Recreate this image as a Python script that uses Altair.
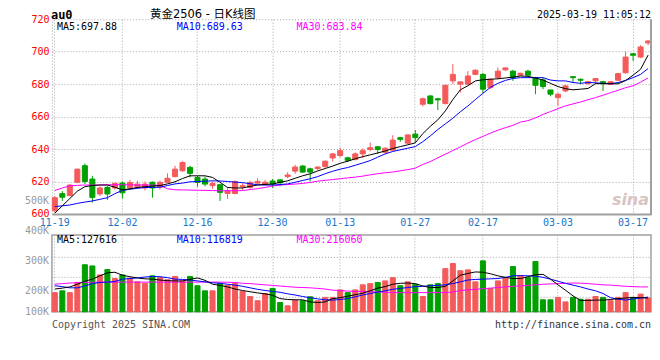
import altair as alt
import pandas as pd

dates = ["11-19","11-20","11-21","11-22","11-25","11-26","11-27","11-28","11-29",
         "12-02","12-03","12-04","12-05","12-06","12-09","12-10","12-11","12-12","12-13",
         "12-16","12-17","12-18","12-19","12-20","12-23","12-24","12-25","12-26","12-27","12-30","12-31",
         "01-02","01-03","01-06","01-07","01-08","01-09","01-10","01-13","01-14","01-15","01-16","01-17",
         "01-20","01-21","01-22","01-23","01-24","01-27",
         "02-05","02-06","02-07","02-10","02-11","02-12","02-13","02-14","02-17","02-18","02-19","02-20","02-21",
         "02-24","02-25","02-26","02-27","02-28",
         "03-03","03-04","03-05","03-06","03-07","03-10","03-11","03-12","03-13","03-14","03-17","03-18","03-19"]

opens = [602, 612.5, 611.3, 619.5, 629.7, 621.5, 612.3, 616.3, 616, 619,
         616, 616.7, 616, 619.5, 616.5, 619.5, 623, 626.6, 628.7, 622.5,
         621.5, 617.4, 618, 612.6, 612.6, 616.7, 616.3, 619, 618.3, 620.3,
         621, 623, 626.4, 629.5, 627.8, 628, 629.2, 634.5, 636, 634.6,
         633.5, 637, 639.7, 641.4, 638, 639.3, 647, 643.6, 649.2, 667.6,
         672.7, 671, 668, 682, 680, 680, 686, 686, 678, 684,
         688.8, 688, 685.5, 688, 684, 682.6, 676.4, 671.7, 675.8, 684.6,
         683, 680.3, 682, 681.5, 679.9, 682.4, 687, 698.7, 696.7, 705.4]
closes = [610, 610.3, 617.8, 627.6, 620, 610.2, 616, 612.3, 618.8, 613,
          619.4, 618.4, 618.4, 616, 619.5, 622, 627.6, 631.7, 625, 619.4,
          618.4, 618.8, 613.3, 614.3, 620, 617.4, 619.4, 620, 619.5, 618.5,
          619.2, 624, 628.9, 625.8, 625.8, 628.9, 632.5, 637, 639, 633,
          637, 639, 640.8, 639.7, 640.5, 645.5, 646, 648.7, 647, 671,
          668, 670.3, 679.3, 686, 681.4, 685, 688.6, 676.9, 683, 688,
          690, 684, 686.7, 685.5, 679.3, 678.5, 673.8, 673.8, 678.9, 684,
          682.4, 681.5, 683.4, 680.3, 681.5, 686.5, 696.7, 697.8, 702.9, 706.6]
highs = [611, 614, 618.5, 628, 631, 623.5, 617, 617.4, 619.3, 620,
         621, 620.5, 620, 620, 620.5, 625, 629.7, 632.5, 629.7, 623.5,
         623, 620, 618.5, 616.3, 620.6, 619, 620.5, 622, 621, 621.5,
         621.5, 625.7, 630.2, 630.2, 628.5, 629.5, 633, 637.5, 640.8, 635.2,
         638, 640.4, 644, 641.8, 641, 648.5, 647.5, 649, 651.7, 671.7,
         673.2, 671.5, 679.5, 692.3, 681.6, 688, 689, 687, 683.5, 690.2,
         690.3, 688.8, 687, 688.8, 684.5, 684, 676.5, 674.5, 679.5, 684.8,
         683.4, 682, 683.8, 682, 682, 687, 700, 699, 704, 707]
lows = [601, 608, 611, 619, 618.5, 607, 611, 608.6, 615, 609.5,
        615, 615.5, 614.5, 610, 615, 619, 622.5, 626, 622.5, 616.7,
        617, 615.5, 608, 609.3, 612, 614.8, 615.5, 618.5, 617.5, 616,
        617, 622, 624.7, 625.3, 620, 627, 628.5, 632.3, 635, 631.9,
        633, 634.4, 638.6, 637, 637, 639, 644.5, 643, 644, 666.2,
        667.5, 664, 667.5, 680, 674.8, 679.5, 685.5, 674.4, 677, 683,
        688, 682, 685, 684.6, 673.8, 676.9, 672.5, 666.6, 675, 681,
        680, 679.5, 680.3, 675.8, 679.5, 682, 686.5, 694.3, 696, 704]

ma5 = [600.5, 605, 609.5, 614, 616.8, 617.5, 617.8, 617.8, 616.5, 614.8,
       615.5, 616.3, 616.8, 617.2, 617.5, 618.5, 619.8, 621.8, 623.5, 623.5,
       623.5, 622.5, 619.5, 616.3, 616, 616, 617, 617.8, 618.2, 618.4,
       619.5, 620.4, 622, 623.5, 624.7, 626.5, 628, 629.5, 631.2, 632.5,
       634, 635.3, 636.4, 637.6, 638.8, 640.3, 641.5, 642.6, 643.8, 649.5,
       654, 658, 663.5, 670.5, 676.5, 679, 682, 682.7, 683, 683.3,
       683.8, 684.3, 685, 684.8, 683.8, 682.5, 680.5, 678.5, 677.2, 676.5,
       676.9, 677.3, 680.3, 680.3, 680.2, 680.2, 682.2, 685.5, 689.2, 697.88]
ma10 = [604.5, 605, 605.5, 606.5, 607.3, 608, 609, 610, 612.5, 614.5,
        615.2, 615.8, 616.3, 616.3, 616.5, 617.5, 618.5, 619, 619.8, 620,
        620.2, 620.4, 620.3, 620, 619.6, 619.3, 618.6, 618, 617.8, 617.8,
        618.1, 618.5, 619.5, 620.6, 621.7, 623, 624.8, 626.3, 627.6, 628.6,
        630, 631.4, 632.9, 635, 637, 638.5, 639.5, 640.5, 641.5, 644.5,
        648.1, 652, 655.5, 659, 663, 666.5, 670.5, 674.3, 678, 680.5,
        682.3, 683.5, 684, 684, 684, 684, 682.5, 682, 682, 681,
        680.5, 681, 680.8, 680.5, 680.3, 681, 682.3, 684, 686, 689.63]
ma30 = [614.5, 616, 617.3, 617.6, 617.8, 617.8, 617.9, 618, 618, 618,
        617.9, 617.8, 617.8, 617.8, 617.6, 615.5, 614.9, 614.8, 614.7, 614.6,
        614.5, 614.4, 614.3, 614.3, 614.3, 614.4, 615, 615.6, 616.3, 617.2,
        617.8, 618.1, 618.4, 618.8, 619.4, 620.2, 620.7, 621.2, 621.7, 622.2,
        622.7, 623.3, 624.1, 624.8, 625.4, 625.8, 626.6, 627.3, 628.2, 630.5,
        632.3, 634.6, 636.8, 639.1, 641.3, 643.7, 645.8, 647.8, 649.8, 651.6,
        653.2, 654.6, 656.6, 657.5, 659.2, 661.3, 663.1, 664.9, 666.6, 667.8,
        669, 670.4, 671.7, 673.2, 674.7, 676.2, 677.8, 679, 681.2, 683.84]

# volume in thousands of lots
vols = [194, 200, 194, 228, 287, 283, 253, 271, 241, 253,
        242, 230, 225, 250, 244, 237, 248, 233, 248, 217,
        200, 200, 225, 219, 225, 198, 181, 167, 191, 208,
        161, 150, 169, 167, 180, 167, 178, 178, 203, 194,
        203, 220, 224, 228, 233, 244, 217, 230, 222, 181,
        220, 224, 274, 291, 267, 270, 230, 300, 208, 233,
        244, 281, 250, 244, 298, 170, 170, 178, 163, 178,
        172, 172, 181, 178, 167, 178, 194, 178, 189, 176]
vma5 = [206, 209, 213, 222, 232, 239, 250, 260, 262, 252,
        247, 243, 240, 239, 236, 234, 233, 233, 238, 243,
        235, 222, 218, 213, 206, 201, 197, 193, 190, 185,
        174, 171, 170, 170, 163, 161, 163, 174, 177, 182,
        187, 192, 200, 209, 214, 222, 225, 226, 224, 216,
        211, 211, 215, 233, 252, 258, 263, 262, 257, 250,
        245, 241, 241, 247, 254, 255, 239, 220, 202, 183,
        168, 168, 169, 169, 171, 174, 176, 178, 177, 176]
vma10 = [217, 214, 210, 210, 216, 224, 228, 229, 231, 239,
         241, 243, 246, 248, 247, 244, 239, 238, 236, 233,
         230, 227, 225, 222, 219, 215, 210, 205, 201, 198,
         195, 190, 186, 181, 177, 173, 170, 169, 171, 174,
         180, 186, 191, 196, 200, 205, 208, 211, 214, 215,
         217, 218, 220, 224, 230, 236, 238, 239, 240, 241,
         245, 250, 251, 250, 249, 245, 239, 232, 225, 219,
         213, 206, 200, 191, 177, 172, 169, 173, 176, 179]
vma30 = [222, 224, 226, 227, 228, 228.5, 229, 229, 229, 229,
         229, 229, 229, 229, 229, 229, 229, 229, 229, 229,
         229, 229, 229, 228.5, 228, 225, 224, 222, 220, 218,
         216, 214, 212, 211, 210, 208, 206, 202, 201, 199,
         198, 198, 197, 196, 195, 194, 194, 194, 194, 194,
         194, 194, 194, 196, 201, 203, 205, 207, 209, 211,
         213, 215, 216.5, 218, 220, 222, 223, 224, 225, 226,
         225.5, 224, 222, 220, 219, 217, 215, 214, 213, 213]

price_ticks = [600, 620, 640, 660, 680, 700, 720]
date_ticks = ["11-19", "12-02", "12-16", "12-30", "01-13", "01-27", "02-17", "03-03", "03-17"]
vol_label_text = ["500K", "400K", "300K", "200K", "100K"]
vol_label_pos = [500, 400, 300, 200, 130]
vol_grid = [181, 248, 313]
vol_min, vol_max = 130, 386.7

RED = "#f55a5a"
GREEN = "#00a000"
GRID = "#a8a8a8"
FRAME = "#a0a0a0"
MONO = "DejaVu Sans Mono"
TITLE_FONT = "'DejaVu Sans', 'Noto Sans CJK SC'"
W, H1, H2 = 600, 195, 77

df = pd.DataFrame(dict(d=dates, o=opens, h=highs, l=lows, c=closes,
                       ma5=ma5, ma10=ma10, ma30=ma30,
                       v=vols, vma5=vma5, vma10=vma10, vma30=vma30))
df["dir"] = ["up" if c >= o else "down" for o, c in zip(opens, closes)]

xscale = alt.Scale(domain=dates, paddingInner=0.33, paddingOuter=0.05)
color = alt.Color("dir:N", scale=alt.Scale(domain=["up", "down"], range=[RED, GREEN]), legend=None)
stroke = alt.Stroke("dir:N", scale=alt.Scale(domain=["up", "down"], range=[RED, GREEN]), legend=None)

x_top = alt.X("d:O", scale=xscale, axis=alt.Axis(
    values=date_ticks, title=None, labelAngle=0, grid=True, gridDash=[1, 2], gridColor=GRID,
    ticks=False, domain=True, domainColor=FRAME, domainWidth=2, labelColor="#1a75c8",
    labelFont=MONO, labelFontSize=10, labelPadding=4, bandPosition=0.5, labelOverlap=False))
x_vol = alt.X("d:O", scale=xscale, axis=alt.Axis(
    values=date_ticks, title=None, labels=False, grid=True, gridDash=[1, 2], gridColor=GRID,
    ticks=False, domain=False, bandPosition=0.5))

pscale = alt.Scale(domain=[600, 720], nice=False, zero=False)
paxis = alt.Axis(values=price_ticks, title=None, grid=True, gridDash=[1, 2], gridColor=GRID,
                 ticks=False, domain=True, domainDash=[1, 2], domainColor=GRID,
                 labelColor="#ff0000", labelFont=MONO, labelFontSize=10, labelPadding=3)
vscale = alt.Scale(domain=[vol_min, vol_max], nice=False, zero=False)
vaxis = alt.Axis(values=vol_grid, title=None, labels=False, ticks=False, domain=False,
                 grid=True, gridDash=[1, 2], gridColor=GRID)


def label(text, x, y, color="black", size=10, font=MONO, align="left", baseline="middle",
          weight="normal", style="normal", opacity=1):
    return alt.Chart(pd.DataFrame({"t": [text]})).mark_text(
        align=align, baseline=baseline, color=color, fontSize=size, font=font,
        fontWeight=weight, fontStyle=style, opacity=opacity
    ).encode(text="t:N", x=alt.value(x), y=alt.value(y))


base = alt.Chart(df)

wick = base.mark_rule(strokeWidth=1).encode(
    x=x_top, y=alt.Y("l:Q", scale=pscale, axis=paxis), y2="h:Q", color=color)
body = base.mark_bar(strokeWidth=1).encode(
    x=x_top, y=alt.Y("o:Q", scale=pscale, axis=paxis), y2="c:Q", color=color, stroke=stroke)


def pline(field, col):
    return base.mark_line(strokeWidth=1, color=col).encode(
        x=x_top, y=alt.Y(f"{field}:Q", scale=pscale, axis=paxis))


right_border = alt.Chart(pd.DataFrame({"t": [0]})).mark_rule(color=FRAME, strokeWidth=2).encode(
    x=alt.value(W), y=alt.value(0), y2=alt.value(H1 + 1))
top_spacer = alt.Chart(pd.DataFrame({"t": [0]})).mark_rule(color="white").encode(
    x=alt.value(W - 1), y=alt.value(-10), y2=alt.value(-9))

top = alt.layer(
    wick, body, pline("ma30", "#ff00ff"), pline("ma10", "#0000ff"), pline("ma5", "#000000"),
    right_border, top_spacer,
    label("sina", W - 2, H1 - 14, color="#d9c4c4", size=16, font="DejaVu Sans", align="right",
          weight="bold", style="italic"),
    label(f"MA5:{ma5[-1]:.2f}", 5, 8),
    label(f"MA10:{ma10[-1]:.2f}", 125, 8, color="#0000ff"),
    label(f"MA30:{ma30[-1]:.2f}", 245, 8, color="#ff00ff"),
    label("au0", -1, -4.5, size=12, weight="bold"),
    label("黄金2506 - 日K线图", 151, -4.5, size=11.5, font=TITLE_FONT, align="center"),
    label("2025-03-19 11:05:12", W, -4.5, align="right"),
).properties(width=W, height=H1, view=alt.ViewConfig(stroke=None))

vbars = base.mark_bar(strokeWidth=1).encode(
    x=x_vol, y=alt.Y("v:Q", scale=vscale, axis=vaxis), y2=alt.Y2Datum(vol_min),
    color=color, stroke=stroke)


def vline(field, col):
    return base.mark_line(strokeWidth=1, color=col).encode(
        x=x_vol, y=alt.Y(f"{field}:Q", scale=vscale, axis=vaxis))


vlabels = alt.Chart(pd.DataFrame({"t": vol_label_text, "p": vol_label_pos})).mark_text(
    align="right", baseline="middle", color="#9a9a9a", font=MONO, fontSize=10
).encode(text="t:N", y=alt.Y("p:Q", scale=vscale, axis=vaxis), x=alt.value(-3))

spacer = alt.Chart(pd.DataFrame({"t": [0]})).mark_rule(color="white").encode(
    x=alt.value(-42), y=alt.value(0), y2=alt.value(4))

vol = alt.layer(
    vbars, vline("vma30", "#ff00ff"), vline("vma10", "#0000ff"), vline("vma5", "#000000"),
    vlabels, spacer,
    label("MA5:127616", 5, 5),
    label("MA10:116819", 125, 5, color="#0000ff"),
    label("MA30:216060", 245, 5, color="#ff00ff"),
    label("Copyright 2025 SINA.COM", 0, H2 + 13, color="#555555"),
    label("http://finance.sina.com.cn", W, H2 + 13, color="#333333", align="right"),
).properties(width=W, height=H2, view=alt.ViewConfig(stroke=FRAME, strokeWidth=1.5))

chart = alt.vconcat(top, vol, spacing=21, bounds="flush").resolve_scale(
    y="independent").properties(padding=0, background="white")

chart.save("out.html", embed_options={"renderer": "svg", "actions": False})
